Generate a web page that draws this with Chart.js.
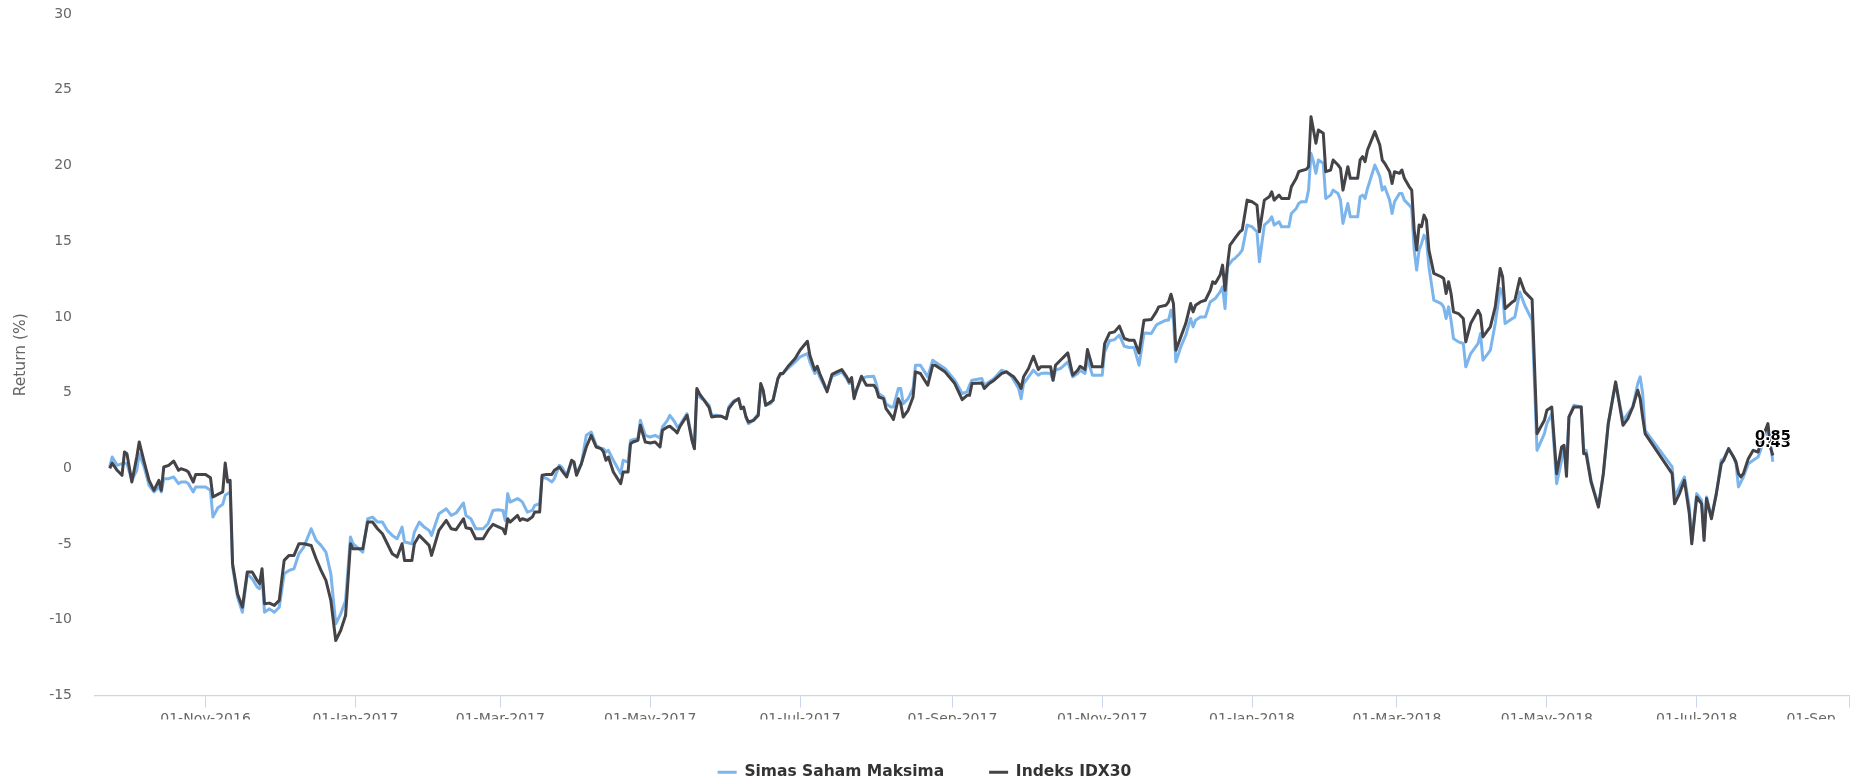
<!DOCTYPE html>
<html>
<head>
<meta charset="utf-8">
<title>Return (%) - Simas Saham Maksima vs Indeks IDX30</title>
<script src="https://cdn.jsdelivr.net/npm/chart.js@4.4.1/dist/chart.umd.min.js"></script>
<style>
  html, body { margin: 0; padding: 0; background: #fff; }
  .chart-wrap { position: relative; width: 1856px; height: 783px; }
</style>
</head>
<body>
<div class="chart-wrap"><canvas id="returnChart"></canvas></div>
<script>
// ── Data ──────────────────────────────────────────────────────────────────────
const dates = [
  '2016-09-23','2016-09-24','2016-09-26','2016-09-28','2016-09-29','2016-09-30',
  '2016-10-02','2016-10-04','2016-10-05','2016-10-07','2016-10-09','2016-10-11','2016-10-13','2016-10-14','2016-10-15','2016-10-17','2016-10-19','2016-10-21','2016-10-22','2016-10-24','2016-10-25','2016-10-27','2016-10-28',
  '2016-11-01','2016-11-03','2016-11-04','2016-11-06','2016-11-08','2016-11-09','2016-11-10','2016-11-11','2016-11-12','2016-11-14','2016-11-16','2016-11-18','2016-11-20','2016-11-22','2016-11-23','2016-11-24','2016-11-25','2016-11-27','2016-11-29',
  '2016-12-01','2016-12-03','2016-12-05','2016-12-07','2016-12-09','2016-12-11','2016-12-14','2016-12-16','2016-12-18','2016-12-20','2016-12-22','2016-12-24','2016-12-26','2016-12-28','2016-12-30','2016-12-31',
  '2017-01-04','2017-01-06','2017-01-08','2017-01-10','2017-01-12','2017-01-14','2017-01-16','2017-01-18','2017-01-20','2017-01-21','2017-01-24','2017-01-25','2017-01-27','2017-01-29','2017-01-31',
  '2017-02-01','2017-02-04','2017-02-07','2017-02-09','2017-02-11','2017-02-14','2017-02-15','2017-02-17','2017-02-19','2017-02-22','2017-02-24','2017-02-26','2017-02-28',
  '2017-03-02','2017-03-03','2017-03-04','2017-03-05','2017-03-08','2017-03-09','2017-03-10','2017-03-12','2017-03-14','2017-03-15','2017-03-17','2017-03-18','2017-03-20','2017-03-22','2017-03-23','2017-03-25','2017-03-26','2017-03-28','2017-03-30','2017-03-31',
  '2017-04-01','2017-04-03','2017-04-05','2017-04-07','2017-04-09','2017-04-11','2017-04-12','2017-04-13','2017-04-14','2017-04-16','2017-04-19','2017-04-20','2017-04-22','2017-04-23','2017-04-24','2017-04-26','2017-04-27','2017-04-29',
  '2017-05-01','2017-05-03','2017-05-05','2017-05-06','2017-05-08','2017-05-09','2017-05-11','2017-05-12','2017-05-13','2017-05-16','2017-05-18','2017-05-19','2017-05-20','2017-05-21','2017-05-23','2017-05-25','2017-05-26','2017-05-28','2017-05-30',
  '2017-06-01','2017-06-02','2017-06-03','2017-06-04','2017-06-06','2017-06-07','2017-06-08','2017-06-09','2017-06-10','2017-06-12','2017-06-14','2017-06-15','2017-06-16','2017-06-17','2017-06-19','2017-06-20','2017-06-22','2017-06-23','2017-06-24','2017-06-26','2017-06-29',
  '2017-07-01','2017-07-04','2017-07-05','2017-07-07','2017-07-08','2017-07-09','2017-07-11','2017-07-12','2017-07-14','2017-07-16','2017-07-18','2017-07-20','2017-07-21','2017-07-22','2017-07-23','2017-07-24','2017-07-26','2017-07-28','2017-07-31',
  '2017-08-01','2017-08-02','2017-08-04','2017-08-05','2017-08-07','2017-08-08','2017-08-10','2017-08-11','2017-08-12','2017-08-14','2017-08-16','2017-08-17','2017-08-19','2017-08-22','2017-08-24','2017-08-25','2017-08-27','2017-08-29',
  '2017-09-02','2017-09-05','2017-09-07','2017-09-08','2017-09-09','2017-09-13','2017-09-14','2017-09-16','2017-09-18','2017-09-21','2017-09-23','2017-09-25','2017-09-26','2017-09-28','2017-09-29','2017-09-30',
  '2017-10-02','2017-10-04','2017-10-06','2017-10-07','2017-10-09','2017-10-11','2017-10-12','2017-10-13','2017-10-15','2017-10-18','2017-10-20','2017-10-22','2017-10-23','2017-10-25','2017-10-26','2017-10-28',
  '2017-11-01','2017-11-02','2017-11-04','2017-11-06','2017-11-08','2017-11-10','2017-11-12','2017-11-14','2017-11-16','2017-11-18','2017-11-21','2017-11-23','2017-11-24','2017-11-27','2017-11-28','2017-11-29','2017-11-30',
  '2017-12-01','2017-12-03','2017-12-05','2017-12-07','2017-12-08','2017-12-09','2017-12-11','2017-12-13','2017-12-15','2017-12-16','2017-12-17','2017-12-19','2017-12-20','2017-12-21','2017-12-22','2017-12-23','2017-12-24','2017-12-25','2017-12-27','2017-12-28','2017-12-30',
  '2018-01-01','2018-01-03','2018-01-04','2018-01-06','2018-01-08','2018-01-09','2018-01-10','2018-01-12','2018-01-13','2018-01-16','2018-01-17','2018-01-19','2018-01-20','2018-01-21','2018-01-23','2018-01-24','2018-01-25','2018-01-26','2018-01-27','2018-01-28','2018-01-30','2018-01-31',
  '2018-02-02','2018-02-03','2018-02-05','2018-02-06','2018-02-07','2018-02-09','2018-02-10','2018-02-13','2018-02-14','2018-02-15','2018-02-16','2018-02-17','2018-02-20','2018-02-22','2018-02-23','2018-02-24','2018-02-26','2018-02-27','2018-02-28',
  '2018-03-02','2018-03-03','2018-03-04','2018-03-06','2018-03-07','2018-03-08','2018-03-09','2018-03-10','2018-03-11','2018-03-12','2018-03-13','2018-03-14','2018-03-16','2018-03-19','2018-03-20','2018-03-21','2018-03-22','2018-03-23','2018-03-24','2018-03-26','2018-03-28','2018-03-29','2018-03-31',
  '2018-04-03','2018-04-04','2018-04-05','2018-04-07','2018-04-08','2018-04-10','2018-04-12','2018-04-13','2018-04-14','2018-04-17','2018-04-18','2018-04-20','2018-04-22','2018-04-25','2018-04-27','2018-04-30',
  '2018-05-01','2018-05-03','2018-05-05','2018-05-07','2018-05-08','2018-05-09','2018-05-10','2018-05-12','2018-05-15','2018-05-16','2018-05-17','2018-05-19','2018-05-22','2018-05-24','2018-05-26','2018-05-29',
  '2018-06-01','2018-06-03','2018-06-05','2018-06-07','2018-06-08','2018-06-09','2018-06-10','2018-06-21','2018-06-22','2018-06-24','2018-06-26','2018-06-28','2018-06-29',
  '2018-07-01','2018-07-03','2018-07-04','2018-07-05','2018-07-07','2018-07-09','2018-07-11','2018-07-12','2018-07-14','2018-07-16','2018-07-17','2018-07-18','2018-07-19','2018-07-20','2018-07-22','2018-07-24','2018-07-26','2018-07-27','2018-07-30','2018-07-31',
  '2018-08-01'
];

const simasSaham = [
  0.10, 0.75, 0.20, 0.31, 0.35, 0.31,
  -0.79, -0.13, 0.97, 0.09, -1.12, -1.56, -1.23, -1.56, -0.68, -0.68, -0.57, -1.01, -0.90, -0.90, -1.01, -1.56, -1.23,
  -1.23, -1.45, -3.22, -2.60, -2.38, -1.78, -1.67, -1.56, -6.52, -8.50, -9.50, -6.96, -7.29, -7.84, -7.95, -7.07, -9.50, -9.28, -9.50,
  -9.17, -6.96, -6.74, -6.63, -5.64, -5.20, -3.99, -4.76, -5.09, -5.53, -6.96, -10.27, -9.61, -8.72, -4.54, -4.98,
  -5.53, -3.33, -3.22, -3.55, -3.55, -4.10, -4.43, -4.65, -3.88, -4.87, -4.98, -4.21, -3.55, -3.88, -4.10,
  -4.43, -3.00, -2.67, -3.11, -2.95, -2.29, -3.11, -3.33, -3.99, -3.99, -3.66, -2.78, -2.74,
  -2.78, -3.44, -1.67, -2.23, -2.00, -2.10, -2.23, -2.89, -2.78, -2.45, -2.34, -0.57, -0.68, -0.90, -0.68, 0.20, 0.09, -0.46, 0.42, 0.31,
  -0.35, 0.31, 2.18, 2.40, 1.52, 1.30, 1.30, 1.08, 1.19, 0.53, -0.35, 0.53, 0.42, 1.85, 1.90, 1.96, 3.17, 2.18,
  2.07, 2.18, 2.00, 2.73, 3.17, 3.50, 3.06, 2.73, 2.84, 3.61, 1.96, 1.30, 5.16, 4.71, 4.49, 4.16, 3.50, 3.50, 3.44,
  3.28, 4.05, 4.27, 4.45, 4.60, 3.94, 4.05, 3.39, 2.95, 3.17, 3.61, 5.49, 5.05, 4.16, 4.27, 4.49, 5.93, 6.15, 6.26, 6.59, 7.03,
  7.36, 7.58, 7.03, 6.26, 6.48, 6.04, 5.38, 5.16, 6.08, 6.21, 6.37, 5.93, 5.60, 5.82, 4.71, 5.20, 5.93, 6.04, 6.08,
  5.60, 4.94, 4.71, 4.27, 4.05, 4.05, 5.27, 5.27, 4.27, 4.60, 5.27, 6.81, 6.81, 6.04, 7.14, 7.03, 6.81, 6.59,
  5.82, 4.94, 5.05, 5.49, 5.82, 5.93, 5.49, 5.71, 5.93, 6.48, 6.37, 6.08, 5.82, 5.27, 4.60, 5.60,
  6.04, 6.48, 6.15, 6.26, 6.30, 6.26, 5.82, 6.48, 6.59, 7.03, 6.04, 6.26, 6.48, 6.26, 7.25, 6.15,
  6.15, 7.69, 8.42, 8.50, 8.79, 8.06, 7.98, 7.98, 6.81, 8.94, 8.90, 9.45, 9.56, 9.78, 9.78, 10.44, 9.78,
  7.03, 8.02, 8.79, 9.89, 9.34, 9.78, 10.00, 10.00, 10.99, 11.10, 11.21, 11.65, 11.98, 10.55, 13.31, 13.53, 13.75, 13.86, 14.19, 14.41, 16.06,
  15.95, 15.62, 13.64, 16.06, 16.35, 16.61, 16.06, 16.28, 15.95, 15.95, 16.83, 17.16, 17.49, 17.60, 17.60, 18.37, 20.80, 20.25, 19.48, 20.36, 20.14, 17.82,
  18.04, 18.37, 18.15, 17.71, 16.17, 17.49, 16.61, 16.61, 17.93, 18.04, 17.82, 18.48, 20.03, 19.26, 18.37, 18.59, 17.71, 16.83, 17.60,
  18.15, 18.15, 17.71, 17.38, 17.16, 14.41, 13.09, 14.41, 14.85, 15.40, 15.07, 13.31, 11.10, 10.88, 10.66, 9.89, 10.66, 9.78, 8.57, 8.35, 8.24, 6.70, 7.58,
  8.24, 8.90, 7.14, 7.58, 7.80, 9.56, 11.87, 11.54, 9.56, 9.89, 10.00, 11.65, 10.77, 9.78, 1.19, 2.29,
  2.95, 3.61, -1.01, 0.53, 1.41, 0.09, 3.39, 4.16, 4.05, 1.19, 1.19, -0.79, -2.45, -0.35, 2.95, 5.60,
  3.17, 3.61, 4.05, 5.60, 6.04, 4.94, 2.51, 0.09, -1.89, -1.23, -0.57, -2.56, -4.76,
  -1.67, -2.12, -4.54, -1.89, -3.22, -1.67, 0.53, 0.64, 1.30, 0.75, 0.31, -1.23, -0.90, -0.57, 0.31, 0.53, 0.75, 1.19, 2.73, 1.63,
  0.43
];

const idx30 = [
  0.00, 0.35, -0.13, -0.46, 1.08, 0.97,
  -0.90, 0.75, 1.74, 0.42, -0.79, -1.45, -0.79, -1.45, 0.09, 0.20, 0.48, -0.13, -0.02, -0.13, -0.24, -0.90, -0.40,
  -0.40, -0.62, -1.89, -1.72, -1.56, 0.35, -0.90, -0.79, -6.30, -8.28, -9.17, -6.85, -6.85, -7.40, -7.62, -6.63, -8.94, -8.90, -9.05,
  -8.72, -6.08, -5.75, -5.75, -4.98, -4.98, -5.09, -5.97, -6.74, -7.40, -8.72, -11.37, -10.71, -9.72, -4.98, -5.31,
  -5.31, -3.55, -3.55, -3.99, -4.32, -4.98, -5.64, -5.86, -4.98, -6.08, -6.08, -4.98, -4.43, -4.76, -5.09,
  -5.75, -4.10, -3.44, -3.99, -4.05, -3.33, -3.92, -3.99, -4.65, -4.65, -4.10, -3.70, -3.85,
  -3.99, -4.32, -3.33, -3.55, -3.11, -3.44, -3.33, -3.44, -3.22, -2.89, -2.89, -0.46, -0.40, -0.40, -0.13, 0.09, -0.13, -0.57, 0.53, 0.42,
  -0.46, 0.31, 1.41, 2.18, 1.41, 1.30, 1.08, 0.53, 0.75, -0.24, -1.01, -0.24, -0.24, 1.63, 1.74, 1.85, 2.84, 1.74,
  1.67, 1.74, 1.41, 2.51, 2.73, 2.78, 2.51, 2.34, 2.73, 3.50, 1.85, 1.30, 5.27, 4.94, 4.49, 4.01, 3.39, 3.44, 3.44,
  3.28, 3.94, 4.16, 4.38, 4.60, 3.94, 4.05, 3.39, 3.06, 3.17, 3.50, 5.60, 5.16, 4.16, 4.38, 4.49, 5.93, 6.26, 6.26, 6.70, 7.25,
  7.80, 8.39, 7.47, 6.48, 6.74, 6.26, 5.49, 5.05, 6.21, 6.37, 6.52, 6.04, 5.71, 5.99, 4.60, 5.16, 6.08, 5.49, 5.49,
  5.27, 4.71, 4.60, 3.94, 3.50, 3.22, 4.60, 4.27, 3.39, 3.83, 4.71, 6.37, 6.26, 5.49, 6.81, 6.81, 6.59, 6.37,
  5.60, 4.54, 4.82, 4.82, 5.60, 5.64, 5.27, 5.60, 5.82, 6.26, 6.37, 6.15, 6.04, 5.60, 5.27, 6.04,
  6.59, 7.40, 6.52, 6.70, 6.70, 6.70, 5.82, 6.81, 7.14, 7.62, 6.15, 6.48, 6.74, 6.52, 7.84, 6.70,
  6.70, 8.24, 8.94, 9.01, 9.39, 8.57, 8.46, 8.46, 7.62, 9.78, 9.83, 10.33, 10.66, 10.77, 10.99, 11.50, 10.88,
  7.80, 8.68, 9.56, 10.88, 10.33, 10.77, 10.99, 11.10, 11.76, 12.32, 12.21, 12.76, 13.42, 11.76, 13.42, 14.74, 14.96, 15.18, 15.62, 15.73, 17.71,
  17.60, 17.38, 15.62, 17.71, 17.93, 18.26, 17.71, 18.04, 17.82, 17.82, 18.59, 19.15, 19.59, 19.65, 19.74, 19.92, 23.22, 22.34, 21.46, 22.34, 22.12, 19.59,
  19.70, 20.36, 20.03, 19.81, 18.37, 19.92, 19.15, 19.15, 20.36, 20.58, 20.25, 21.02, 22.23, 21.35, 20.36, 20.14, 19.59, 18.81, 19.59,
  19.48, 19.70, 19.15, 18.59, 18.37, 15.73, 14.41, 16.06, 15.95, 16.72, 16.39, 14.41, 12.87, 12.65, 12.54, 11.54, 12.32, 11.54, 10.33, 10.22, 9.89, 8.35, 9.56,
  10.44, 10.11, 8.68, 9.12, 9.34, 10.66, 13.20, 12.65, 10.55, 10.99, 11.10, 12.54, 11.65, 11.15, 2.29, 3.17,
  3.83, 4.05, -0.35, 1.41, 1.52, -0.53, 3.39, 4.05, 4.05, 0.97, 0.97, -0.90, -2.56, -0.35, 2.95, 5.71,
  2.84, 3.28, 4.05, 5.16, 4.60, 3.39, 2.29, -0.35, -2.34, -1.67, -0.79, -3.00, -4.98,
  -1.89, -2.34, -4.76, -2.00, -3.33, -1.67, 0.31, 0.53, 1.30, 0.75, 0.42, -0.35, -0.57, -0.35, 0.64, 1.19, 1.08, 1.67, 2.95, 1.41,
  0.85
];

const SERIES_NAMES = ['Simas Saham Maksima', 'Indeks IDX30'];
const Y_TICKS = [-15, -10, -5, 0, 5, 10, 15, 20, 25, 30];
const X_TICK_DATES = ['2016-11-01','2017-01-01','2017-03-01','2017-05-01','2017-07-01','2017-09-01',
                      '2017-11-01','2018-01-01','2018-03-01','2018-05-01','2018-07-01','2018-09-01'];
const X_TICK_LABELS = ['01-Nov-2016','01-Jan-2017','01-Mar-2017','01-May-2017','01-Jul-2017','01-Sep-2017',
                       '01-Nov-2017','01-Jan-2018','01-Mar-2018','01-May-2018','01-Jul-2018','01-Sep...'];
const X_RANGE = ['2016-09-17', '2018-09-01'];

// ── Helpers ───────────────────────────────────────────────────────────────────
const FONT = '"DejaVu Sans", Verdana, "Lucida Sans Unicode", sans-serif';
const ts = s => Date.parse(s);
const points = vals => dates.map((d, i) => ({ x: ts(d), y: vals[i] }));

// value label on the last point of every series (Highcharts-style)
const lastValueLabels = {
  id: 'lastValueLabels',
  afterDatasetsDraw(chart) {
    const { ctx } = chart;
    ctx.save();
    ctx.font = `bold 14.5px ${FONT}`;
    ctx.textAlign = 'center';
    ctx.textBaseline = 'alphabetic';
    ctx.lineJoin = 'round';
    chart.data.datasets.forEach((ds, i) => {
      const meta = chart.getDatasetMeta(i);
      const el = meta.data[meta.data.length - 1];
      const txt = ds.data[ds.data.length - 1].y.toFixed(2);
      ctx.lineWidth = 2.5;
      ctx.strokeStyle = '#ffffff';
      ctx.strokeText(txt, el.x, el.y - 15);
      ctx.fillStyle = '#000000';
      ctx.fillText(txt, el.x, el.y - 15);
    });
    ctx.restore();
  }
};

// ── Chart ─────────────────────────────────────────────────────────────────────
new Chart(document.getElementById('returnChart').getContext('2d'), {
  type: 'line',
  data: {
    datasets: [
      { label: SERIES_NAMES[0], data: points(simasSaham), borderColor: '#7cb5ec', backgroundColor: '#7cb5ec',
        borderWidth: 3, pointRadius: 0, tension: 0, borderJoinStyle: 'round', order: 2 },
      { label: SERIES_NAMES[1], data: points(idx30), borderColor: '#434348', backgroundColor: '#434348',
        borderWidth: 3, pointRadius: 0, tension: 0, borderJoinStyle: 'round', order: 1 }
    ]
  },
  options: {
    responsive: true,
    maintainAspectRatio: false,
    animation: false,
    layout: { padding: { top: 14, right: 7, bottom: -7, left: 0 } },
    plugins: {
      tooltip: { enabled: false },
      legend: {
        position: 'bottom',
        labels: {
          usePointStyle: true, pointStyle: 'line', pointStyleWidth: 19,
          padding: 45, color: '#333333',
          font: { family: FONT, size: 15.5, weight: 'bold' },
          sort: (a, b) => a.datasetIndex - b.datasetIndex
        }
      }
    },
    scales: {
      x: {
        type: 'linear',
        min: ts(X_RANGE[0]), max: ts(X_RANGE[1]),
        afterBuildTicks: s => {
          s.ticks = [{ value: s.min }].concat(X_TICK_DATES.map(d => ({ value: ts(d) })));
        },
        ticks: {
          autoSkip: false, maxRotation: 0, minRotation: 0, align: 'inner', padding: 3,
          color: '#666666', font: { family: FONT, size: 14 },
          callback: (v, i) => i === 0 ? '' : X_TICK_LABELS[i - 1]
        },
        grid: {
          drawOnChartArea: false, tickLength: 12, lineWidth: 1,
          color: c => c.index === 0 ? 'rgba(0,0,0,0)' : '#ccd6eb'
        },
        border: { color: '#ccd6eb', width: 1.3 },
        afterFit: s => { s.height = 24; }
      },
      y: {
        min: Y_TICKS[0], max: Y_TICKS[Y_TICKS.length - 1],
        afterBuildTicks: s => { s.ticks = Y_TICKS.map(v => ({ value: v })); },
        grid: { display: false, drawTicks: false },
        border: { display: false },
        ticks: { padding: 23, color: '#666666', font: { family: FONT, size: 14 } },
        title: {
          display: true, text: 'Return (%)', color: '#666666',
          font: { family: FONT, size: 15.5 }, padding: { top: 12, bottom: 0 }
        },
        afterFit: s => { s.width = 95; s.paddingTop = 0; s.paddingBottom = 0; }
      }
    }
  },
  plugins: [lastValueLabels]
});
</script>
</body>
</html>
